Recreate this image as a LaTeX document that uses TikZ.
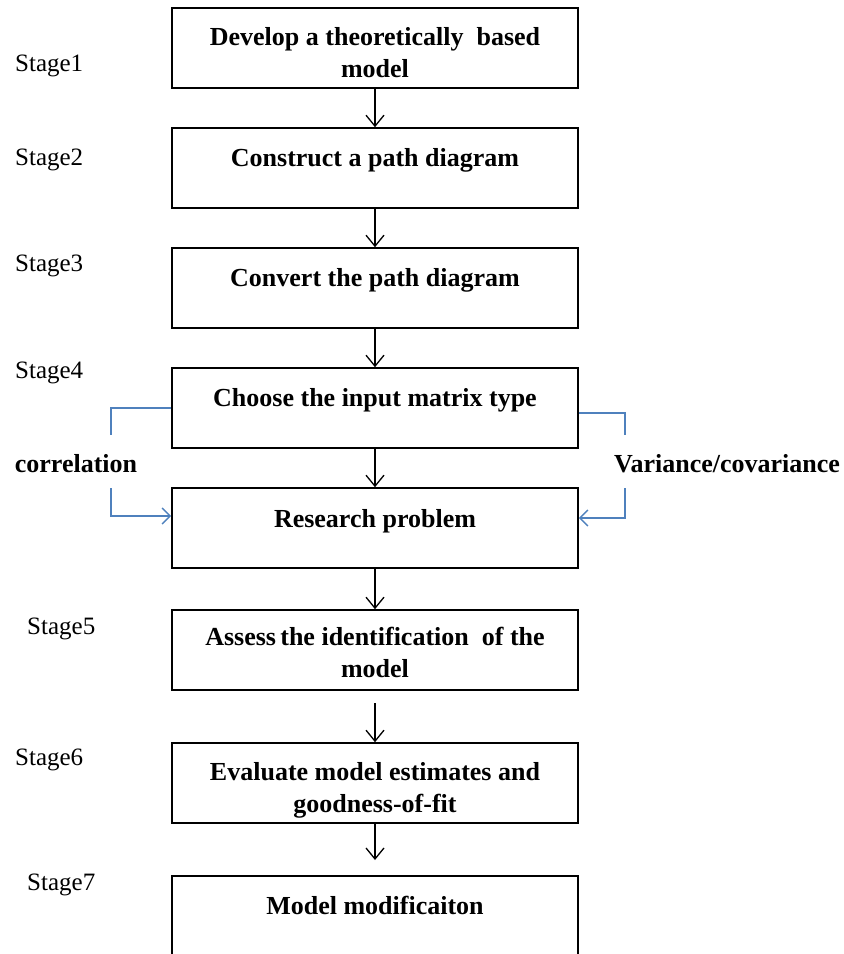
\documentclass[tikz,border=0pt]{standalone}
\usepackage{fontspec}
\setmainfont{Liberation Serif}
\usetikzlibrary{arrows.meta}
\definecolor{linkblue}{RGB}{79,129,189}
\begin{document}
\begin{tikzpicture}[x=1pt,y=-1pt,
  stepbox/.style={draw, line width=1.6pt, minimum width=406pt, minimum height=80pt, inner sep=0pt},
  boxtext/.style={font=\fontsize{26}{32}\selectfont\bfseries, align=center, anchor=base, inner sep=0pt},
  stagetext/.style={font=\fontsize{25}{30}\selectfont, anchor=base west, inner sep=0pt},
  flow/.style={line width=1.3pt, -{Straight Barb[length=11pt,width=18pt,line width=1.3pt]}},
  side/.style={draw=linkblue, line width=1.5pt},
  sidearrow/.style={side, -{Straight Barb[length=8pt,width=16pt,line width=1.5pt]}},
  ]
\useasboundingbox (0,0) rectangle (844,954);
\clip (0,0) rectangle (844,954);

% stage boxes
\node[stepbox] (b1) at (375,48) {};
\node[stepbox] (b2) at (375,168) {};
\node[stepbox] (b3) at (375,288) {};
\node[stepbox] (b4) at (375,408) {};
\node[stepbox] (b5) at (375,528) {};
\node[stepbox] (b6) at (375,650) {};
\node[stepbox] (b7) at (375,783) {};
\node[stepbox, minimum height=100pt] (b8) at (375,926) {};

% box captions (two-line captions sit on the baseline of their last line)
\node[boxtext] (t1) at (375,77.5) {Develop a theoretically\ \ based\\model};
\node[boxtext] (t2) at (375,166) {Construct a path diagram};
\node[boxtext] (t3) at (375,286) {Convert the path diagram};
\node[boxtext] (t4) at (375,406) {Choose the input matrix type};
\node[boxtext] (t5) at (375,527) {Research problem};
\node[boxtext] (t6) at (375,677.5) {Assess\,the identification\ \ of the\\model};
\node[boxtext] (t7) at (375,812.5) {Evaluate model estimates and\\goodness-of-fit};
\node[boxtext] (t8) at (375,914) {Model modificaiton};

% stage labels
\node[stagetext] (s1) at (15,71) {Stage1};
\node[stagetext] (s2) at (15,165) {Stage2};
\node[stagetext] (s3) at (15,271) {Stage3};
\node[stagetext] (s4) at (15,378) {Stage4};
\node[stagetext] (s5) at (27,634) {Stage5};
\node[stagetext] (s6) at (15,765) {Stage6};
\node[stagetext] (s7) at (27,890) {Stage7};

% main flow
\coordinate (a6) at (375,703);
\coordinate (a8) at (375,860);
\draw[flow] (b1) -- (b2);
\draw[flow] (b2) -- (b3);
\draw[flow] (b3) -- (b4);
\draw[flow] (b4) -- (b5);
\draw[flow] (b5) -- (b6);
\draw[flow] (a6) -- (b7);
\draw[flow] (b7) -- (a8);

% matrix type branches
\node[boxtext] (corr) at (76,472) {correlation};
\node[boxtext] (varcov) at (727,472) {Variance/covariance};
\coordinate (lc1) at (111,435);
\coordinate (lc2) at (111,488);
\coordinate (rc1) at (625,435);
\coordinate (rc2) at (625,488);
\draw[side] (b4.west) -| (lc1);
\draw[sidearrow] (lc2) |- ([yshift=12pt]b5.west);
\draw[side] ([yshift=-5pt]b4.east) -| (rc1);
\draw[sidearrow] (rc2) |- ([yshift=10pt]b5.east);
\end{tikzpicture}
\end{document}
